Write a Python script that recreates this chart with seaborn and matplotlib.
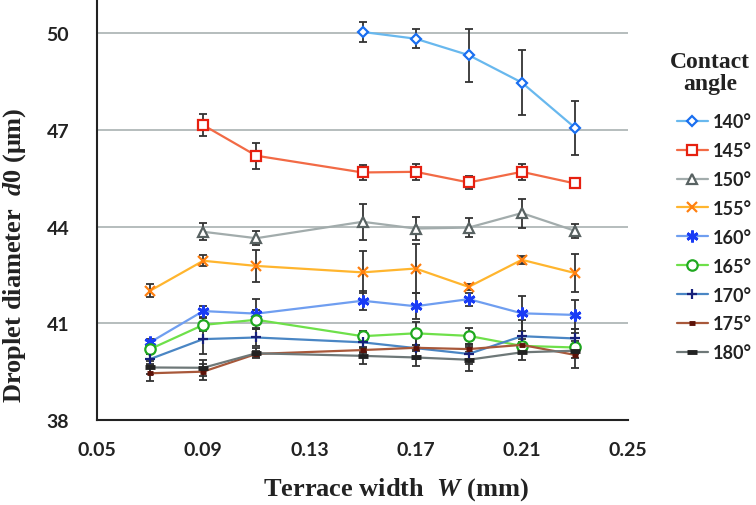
import matplotlib
matplotlib.use("Agg")
import matplotlib.pyplot as plt
import seaborn as sns
from matplotlib.ticker import MultipleLocator, FixedLocator

# terrace width W (mm)
x_all = [0.07, 0.09, 0.11, 0.15, 0.17, 0.19, 0.21, 0.23]
x_140 = [0.15, 0.17, 0.19, 0.21, 0.23]
x_145 = [0.09, 0.11, 0.15, 0.17, 0.19, 0.21, 0.23]

# droplet diameter d0 (um) and error, per contact angle
d_140 = [50.04, 49.83, 49.32, 48.47, 47.07]
e_140 = [0.30, 0.30, 0.82, 1.00, 0.84]
d_145 = [47.15, 46.20, 45.68, 45.70, 45.37, 45.70, 45.34]
e_145 = [0.35, 0.40, 0.22, 0.25, 0.20, 0.24, 0.15]
d_150 = [43.84, 43.64, 44.15, 43.94, 43.97, 44.42, 43.87]
e_150 = [0.27, 0.22, 0.55, 0.35, 0.30, 0.45, 0.22]
d_155 = [42.01, 42.94, 42.78, 42.58, 42.70, 42.13, 42.97, 42.56]
e_155 = [0.20, 0.17, 0.50, 0.65, 0.75, 0.10, 0.12, 0.60]
d_160 = [40.41, 41.38, 41.30, 41.70, 41.53, 41.75, 41.31, 41.26]
e_160 = [0.10, 0.17, 0.45, 0.30, 0.40, 0.20, 0.55, 0.45]
d_165 = [40.20, 40.95, 41.11, 40.60, 40.69, 40.61, 40.30, 40.25]
e_165 = [0.15, 0.20, 0.30, 0.15, 0.35, 0.25, 0.20, 0.20]
d_170 = [39.89, 40.51, 40.56, 40.41, 40.23, 40.05, 40.60, 40.53]
e_170 = [0.15, 0.45, 0.25, 0.30, 0.35, 0.30, 0.50, 0.30]
d_175 = [39.45, 39.50, 40.05, 40.17, 40.24, 40.20, 40.33, 40.02]
e_175 = [0.25, 0.25, 0.10, 0.10, 0.10, 0.10, 0.10, 0.10]
d_180 = [39.63, 39.62, 40.07, 39.99, 39.94, 39.87, 40.10, 40.15]
e_180 = [0.20, 0.25, 0.15, 0.25, 0.27, 0.35, 0.25, 0.55]

angle_labels = ["140°", "145°", "150°", "155°", "160°", "165°", "170°", "175°", "180°"]
x_ticks = [0.05, 0.09, 0.13, 0.17, 0.21, 0.25]
y_ticks = [38, 41, 44, 47, 50]

sns.set_style("white")
plt.rcParams["font.family"] = ["Lato", "DejaVu Sans"]
plt.rcParams["font.weight"] = "bold"
plt.rcParams["mathtext.fontset"] = "custom"
plt.rcParams["mathtext.it"] = "Liberation Serif:italic:bold"
plt.rcParams["mathtext.rm"] = "Liberation Serif:bold"

fig = plt.figure(figsize=(7.56, 5.06), dpi=100)
ax = fig.add_axes([97 / 756, 85 / 506, 531 / 756, 419 / 506])

# (x, y, err, line colour, marker, marker colour, marker size, filled)
series = [
    (x_140, d_140, e_140, "#68b8ee", "D", "#1a6ff0", 4.6, False),
    (x_145, d_145, e_145, "#f26a45", "s", "#e62010", 6.5, False),
    (x_145, d_150, e_150, "#a2acac", "^", "#586262", 7.0, False),
    (x_all, d_155, e_155, "#ffb52e", "x", "#ff8010", 7.0, False),
    (x_all, d_160, e_160, "#6f9ef0", (6, 2, 0), "#1a3cf5", 8.5, False),
    (x_all, d_165, e_165, "#6ee04a", "o", "#20a820", 7.5, False),
    (x_all, d_170, e_170, "#4a86c4", "+", "#16207a", 7.5, False),
    (x_all, d_175, e_175, "#a8583a", "_", "#5c1208", 5.0, True),
    (x_all, d_180, e_180, "#6e7878", "_", "#222222", 7.0, True),
]

for (xs, ys, es, lc, mk, mc, ms, filled), lab in zip(series, angle_labels):
    ax.errorbar(xs, ys, yerr=es, fmt="none", ecolor="#333333",
                elinewidth=1.3, capsize=3, capthick=1.3, zorder=2)
    mew = 3.5 if filled else (2.0 if mk == (6, 2, 0) else 1.6)
    sns.lineplot(x=xs, y=ys, ax=ax, color=lc, linewidth=1.6,
                 marker=mk, markersize=ms, markerfacecolor="white",
                 markeredgecolor=mc, markeredgewidth=mew, label=lab, zorder=3)

ax.set_xlim(0.05, 0.25)
ax.set_ylim(38, 51)
ax.xaxis.set_major_locator(FixedLocator(x_ticks))
ax.xaxis.set_minor_locator(MultipleLocator(0.01))
ax.yaxis.set_major_locator(FixedLocator(y_ticks))
ax.yaxis.set_minor_locator(MultipleLocator(1))
ax.set_xticklabels([f"{v:.2f}" for v in x_ticks])
ax.set_yticklabels([str(v) for v in y_ticks])

for y in y_ticks[1:]:
    ax.axhline(y, color="#a9b2b2", linewidth=1.2, zorder=1)

for s in ["top", "right"]:
    ax.spines[s].set_visible(False)
for s in ["left", "bottom"]:
    ax.spines[s].set_linewidth(1.5)
    ax.spines[s].set_color("#222222")

ax.tick_params(axis="both", which="major", direction="inout", length=12,
               width=1.2, color="#222222", labelsize=14)
ax.tick_params(axis="y", which="major", pad=14)
ax.tick_params(axis="x", which="major", pad=9)
ax.tick_params(axis="y", which="minor", direction="out", length=6.5, width=1.2, color="#222222")
ax.tick_params(axis="x", which="minor", direction="out", length=5, width=1.2, color="#222222")
for t in ax.get_xticklabels() + ax.get_yticklabels():
    t.set_fontweight("bold")
    t.set_color("#222222")
ax.set_xlabel("")
ax.set_ylabel("")

serif = {"family": ["Liberation Serif", "DejaVu Serif"], "weight": "bold", "size": 19}
fig.text(396 / 756, 1 - 490 / 506, r"Terrace width  $\mathit{W}$ (mm)",
         ha="center", va="center", color="#222222", fontdict=serif)
fig.text(15 / 756, 1 - 255 / 506, r"Droplet diameter  $\mathit{d0}$ (μm)",
         ha="center", va="center", rotation=90, color="#222222", fontdict=serif)

# legend title drawn separately so it can sit apart from the entries
fig.text(710 / 756, 1 - 52 / 506, "Contact\nangle", ha="center", va="top",
         multialignment="center", linespacing=1.05, color="#222222",
         fontdict={"family": ["Liberation Serif", "DejaVu Serif"], "weight": "bold", "size": 17})

h, l = ax.get_legend_handles_labels()
leg = ax.legend(h, l, loc="upper left",
                bbox_to_anchor=(677 / 756, 1 - 114 / 506), bbox_transform=fig.transFigure,
                frameon=False, fontsize=13, handlelength=1.7, handletextpad=0.3,
                labelspacing=0.66, borderpad=0, borderaxespad=0)
for t in leg.get_texts():
    t.set_color("#222222")
    t.set_fontweight("bold")

fig.savefig("out.png", dpi=100)
